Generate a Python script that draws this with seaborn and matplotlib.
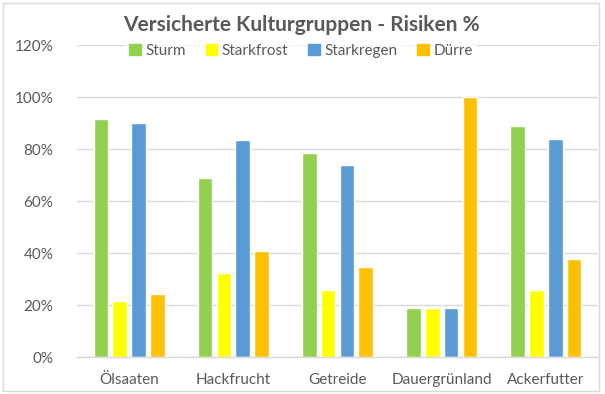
import matplotlib
matplotlib.use("Agg")
import matplotlib.pyplot as plt
import matplotlib.patches as mpatches
from matplotlib.ticker import FuncFormatter
import seaborn as sns
import pandas as pd

categories = ["Ölsaaten", "Hackfrucht", "Getreide", "Dauergrünland", "Ackerfutter"]
series = ["Sturm", "Starkfrost", "Starkregen", "Dürre"]
sturm = [91.5, 68.8, 78.6, 19.0, 89.1]
starkfrost = [21.7, 32.4, 25.8, 19.0, 25.8]
starkregen = [90.0, 83.6, 74.1, 19.0, 83.8]
duerre = [24.4, 40.9, 34.6, 100.0, 37.7]
colors = ["#92D050", "#FFFF00", "#5B9BD5", "#FFC000"]
yticks = [0, 20, 40, 60, 80, 100, 120]

values = {"Sturm": sturm, "Starkfrost": starkfrost, "Starkregen": starkregen, "Dürre": duerre}
rows = []
for s in series:
    for c, v in zip(categories, values[s]):
        rows.append({"Kultur": c, "Risiko": s, "Wert": v})
df = pd.DataFrame(rows)

sns.set_style("white")
plt.rcParams["font.family"] = ["Lato", "DejaVu Sans"]
text_col = "#595959"
grid_col = "#D9D9D9"

fig = plt.figure(figsize=(6.05, 3.94), dpi=100)
fig.patch.set_facecolor("white")
ax = fig.add_axes([77/605, 1-357.3/394, (598-77)/605, (357.3-45.3)/394])

sns.barplot(data=df, x="Kultur", y="Wert", hue="Risiko", order=categories,
            hue_order=series, palette=colors, width=0.72, gap=0.22,
            saturation=1, ax=ax, legend=False)

ax.set_ylim(0, 120)
ax.set_yticks(yticks)
ax.yaxis.set_major_formatter(FuncFormatter(lambda v, p: f"{int(v)}%"))
ax.grid(axis="y", color=grid_col, linewidth=1)
ax.set_axisbelow(True)
for sp in ["top", "right", "left"]:
    ax.spines[sp].set_visible(False)
ax.spines["bottom"].set_color(grid_col)
ax.spines["bottom"].set_linewidth(1)
ax.tick_params(axis="both", length=0, colors=text_col, labelsize=11)
ax.tick_params(axis="y", pad=17)
ax.tick_params(axis="x", pad=11)
ax.set_xlabel("")
ax.set_ylabel("")

handles = [mpatches.Patch(color=c, label=s) for c, s in zip(colors, series)]
leg = ax.legend(handles=handles, loc="center", bbox_to_anchor=(0.43, 0.981), ncol=4,
                frameon=True, fontsize=11, handlelength=0.75, handleheight=0.75,
                handletextpad=0.3, columnspacing=1.3, borderpad=0.25)
leg.get_frame().set_facecolor("white")
leg.get_frame().set_edgecolor("white")
for t in leg.get_texts():
    t.set_color(text_col)

fig.text(301/605, 1-25/394, "Versicherte Kulturgruppen - Risiken %", ha="center", va="center",
         fontsize=15, fontweight="bold", color=text_col)

border = mpatches.Rectangle((3/605, 3/394), 596/605, 388/394, transform=fig.transFigure,
                            fill=False, edgecolor=grid_col, linewidth=1)
fig.patches.append(border)

fig.savefig("out.png", dpi=100)
